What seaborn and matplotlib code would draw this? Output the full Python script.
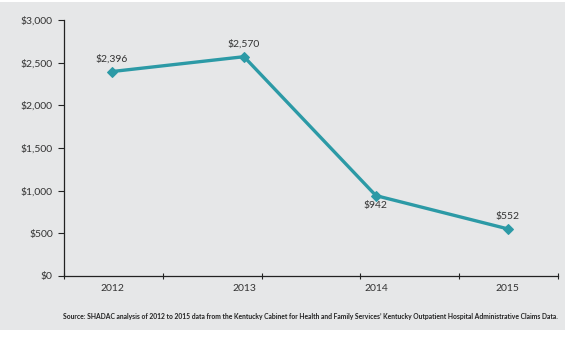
import matplotlib
matplotlib.use("Agg")
import matplotlib.pyplot as plt
import seaborn as sns
import pandas as pd
from matplotlib.patches import Rectangle
from matplotlib.ticker import FuncFormatter, FixedLocator

years = ["2012", "2013", "2014", "2015"]
values = [2396, 2570, 942, 552]
value_labels = ["$2,396", "$2,570", "$942", "$552"]
label_above = [True, True, False, True]
source = ("Source: SHADAC analysis of 2012 to 2015 data from the Kentucky Cabinet for Health and "
          "Family Services\u2019 Kentucky Outpatient Hospital Administrative Claims Data.")

sns.set_style("white")
plt.rcParams["font.family"] = ["Lato", "DejaVu Sans"]

BG = "#e6e7e8"
TEAL = "#2c9aa6"
TXT = "#333333"

df = pd.DataFrame({"x": range(len(years)), "value": values})

fig = plt.figure(figsize=(5.68, 3.42), dpi=100)
fig.patch.set_facecolor("white")
bg = Rectangle((0, 12 / 342), 0.995, 1 - 12 / 342 - 2 / 342,
               transform=fig.transFigure, facecolor=BG, edgecolor="none", zorder=-10)
fig.add_artist(bg)

ax = fig.add_axes([64 / 568, 1 - 276 / 342, (558 - 64) / 568, (276 - 20) / 342])
ax.set_facecolor(BG)
ax.set_zorder(1)

sns.lineplot(data=df, x="x", y="value", ax=ax, color=TEAL, linewidth=2.4,
             marker="D", markersize=5.5, markeredgecolor=TEAL)

for i, (v, lab, up) in enumerate(zip(values, value_labels, label_above)):
    if up:
        ax.annotate(lab, (i, v), xytext=(0, 6), textcoords="offset points",
                    ha="center", va="bottom", fontsize=7.5, color=TXT)
    else:
        ax.annotate(lab, (i, v), xytext=(0, -4), textcoords="offset points",
                    ha="center", va="top", fontsize=7.5, color=TXT)

ax.set_xlim(-0.364, 3.38)
ax.set_ylim(0, 3000)
ax.set_yticks(range(0, 3001, 500))
ax.yaxis.set_major_formatter(FuncFormatter(lambda v, p: f"${int(v):,}"))
ax.set_xticks(range(len(years)))
ax.set_xticklabels(years)
ax.xaxis.set_minor_locator(FixedLocator([-0.364 + 0.7485 * k for k in range(6)]))
ax.tick_params(axis="x", which="major", length=0, pad=6, labelsize=7.5, labelcolor=TXT)
ax.tick_params(axis="x", which="minor", bottom=True, length=4, width=0.8,
               direction="inout", color="#222222")
ax.tick_params(axis="y", which="major", length=4, width=0.8, direction="out",
               color="#222222", labelsize=7.5, labelcolor=TXT, pad=4, left=True)
ax.set_xlabel("")
ax.set_ylabel("")

for s in ["top", "right"]:
    ax.spines[s].set_visible(False)
for s in ["left", "bottom"]:
    ax.spines[s].set_color("#222222")
    ax.spines[s].set_linewidth(0.9)

fig.text(558 / 568, 1 - 316 / 342, source, ha="right", va="center",
         fontsize=4.85, fontweight="bold", color="#222222")

fig.savefig("out.png", dpi=100, facecolor=fig.get_facecolor())
